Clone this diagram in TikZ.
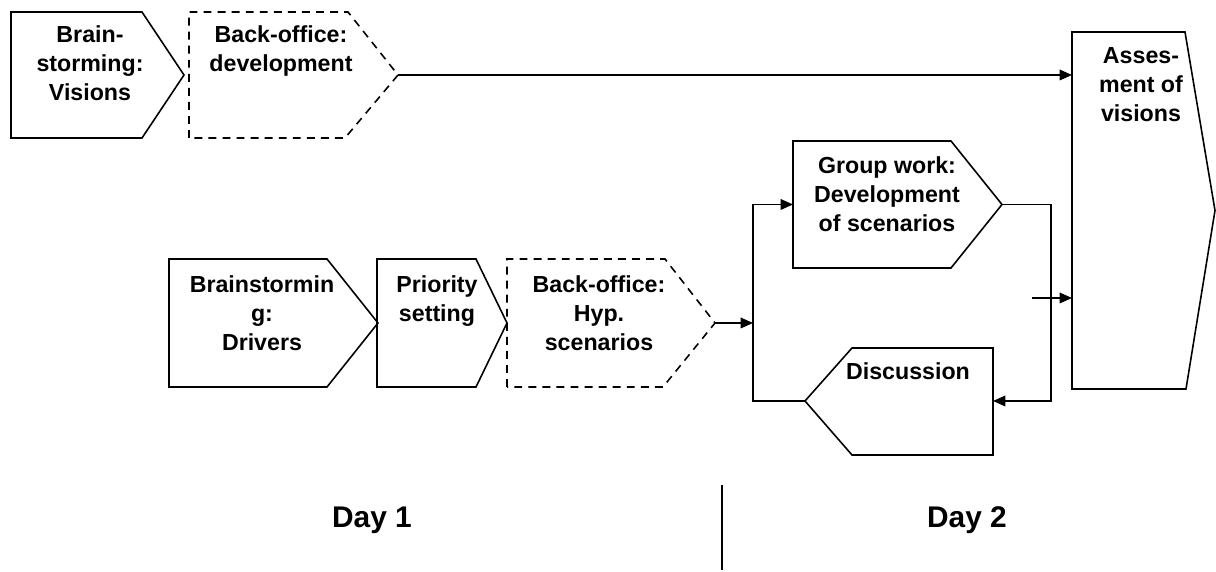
\documentclass[tikz,border=0pt]{standalone}
\usepackage{fontspec}
\setmainfont{Liberation Sans}
\usetikzlibrary{arrows.meta}

\begin{document}
\begin{tikzpicture}[
  box/.style={line width=0.9pt, line join=miter},
  backoffice/.style={box, dash pattern=on 4.5pt off 3.5pt},
  lbl/.style={anchor=north, align=center, inner sep=0pt, font=\fontsize{13.2}{16.5}\selectfont\bfseries},
  daylbl/.style={inner sep=0pt, font=\fontsize{17}{20}\selectfont\bfseries},
  flow/.style={line width=0.9pt, -{Triangle[length=7pt,width=6pt]}},
  divider/.style={line width=0.6pt}
]
\useasboundingbox (0,0) rectangle (24.32,11.44);

% obere Reihe: Visionen
\draw[box] (0.22,8.68) -- (0.22,11.2) -- (2.84,11.2) -- (3.68,9.94) -- (2.84,8.68) -- cycle;	% Brainstorming Visionen
\node[lbl] (visions) at (1.80,10.94) {Brain-\\storming:\\Visions};
\draw[backoffice] (3.78,8.68) -- (3.78,11.2) -- (6.96,11.2) -- (7.96,9.94) -- (6.90,8.68) -- cycle;	% Back-office 1
\node[lbl] (devel) at (5.62,10.94) {Back-office:\\development};
\coordinate (devTip) at (7.96,9.94);

% Bewertung
\draw[box] (21.44,3.66) -- (21.44,10.80) -- (23.70,10.80) -- (24.30,7.23) -- (23.72,3.66) -- cycle;
\node[lbl] (assess) at (22.82,10.50) {Asses-\\ment of\\visions};
\coordinate (assIn) at (21.44,9.94);
\coordinate (assIn2) at (21.44,5.48);

\draw[flow] (devTip) -- (assIn);	% Back-office -> Bewertung

% untere Reihe: Szenarien
\draw[box] (3.38,3.70) -- (3.38,6.26) -- (6.54,6.26) -- (7.56,4.98) -- (6.54,3.70) -- cycle;	% Brainstorming Treiber
\node[lbl] (drivers) at (5.24,5.94) {Brainstormin\\g:\\Drivers};
\draw[box] (7.54,3.70) -- (7.54,6.26) -- (9.52,6.26) -- (10.14,4.98) -- (9.52,3.70) -- cycle;	% Prioritaeten
\node[lbl] (prio) at (8.74,5.94) {Priority\\setting};
\draw[backoffice] (10.14,3.70) -- (10.14,6.26) -- (13.30,6.26) -- (14.30,4.98) -- (13.26,3.70) -- cycle;	% Back-office 2
\node[lbl] (hyp) at (11.98,5.94) {Back-office:\\Hyp.\\scenarios};
\coordinate (hypTip) at (14.30,4.98);

% Gruppenarbeit und Diskussion
\draw[box] (15.86,6.08) -- (15.86,8.62) -- (19.02,8.62) -- (20.04,7.35) -- (19.02,6.08) -- cycle;	% Gruppenarbeit
\node[lbl] (group) at (17.74,8.32) {Group work:\\Development\\of scenarios};
\draw[box] (16.10,3.42) -- (17.04,4.48) -- (19.86,4.48) -- (19.86,2.34) -- (17.04,2.34) -- cycle;	% Diskussion
\node[lbl] (discuss) at (18.16,4.20) {Discussion};

\coordinate (grpIn) at (15.86,7.35);
\coordinate (grpTip) at (20.04,7.35);
\coordinate (discIn) at (19.86,3.42);
\coordinate (discTip) at (16.10,3.42);
\coordinate (loopNW) at (15.06,7.35);
\coordinate (loopSW) at (15.06,3.42);
\coordinate (loopW) at (15.06,4.98);
\coordinate (loopNE) at (21.02,7.35);
\coordinate (loopSE) at (21.02,3.42);
\coordinate (stub) at (20.64,5.48);

\draw[flow] (hypTip) -- (loopW);
\draw[flow] (discTip) -- (loopSW) -- (loopNW) -- (grpIn);	% Schleife links
\draw[flow] (grpTip) -- (loopNE) -- (loopSE) -- (discIn);	% Schleife rechts
\draw[flow] (stub) -- (assIn2);

% Tage
\coordinate (divTop) at (14.44,1.74);
\coordinate (divBot) at (14.44,0.04);
\draw[divider] (divTop) -- (divBot);
\node[daylbl] (day1) at (7.44,1.04) {Day 1};
\node[daylbl] (day2) at (19.34,1.04) {Day 2};

\end{tikzpicture}
\end{document}
